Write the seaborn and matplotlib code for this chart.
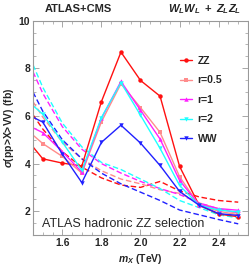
import numpy as np
import pandas as pd
import matplotlib
matplotlib.use("Agg")
import matplotlib.pyplot as plt
import seaborn as sns

# solid curves (markers), mass points in TeV
mx = [1.4, 1.5, 1.6, 1.7, 1.8, 1.9, 2.0, 2.1, 2.2, 2.3, 2.4, 2.5]
zz = [5.2, 4.2, 4.02, 3.9, 6.6, 8.68, 7.49, 6.83, 3.88, 2.25, 1.88, 1.77]
r05 = [5.55, 4.84, 4.3, 3.6, 5.75, 7.35, 6.35, 5.31, 3.45, 2.25, 2.0, 1.85]
r1 = [5.7, 5.3, 4.5, 3.64, 5.9, 7.45, 6.24, 5.03, 3.29, 2.28, 2.11, 2.04]
r2 = [6.8, 6.07, 4.9, 3.71, 5.93, 7.4, 6.03, 4.64, 3.08, 2.25, 2.05, 1.97]
ww = [6.15, 5.74, 4.4, 3.2, 4.89, 5.61, 4.86, 3.92, 2.83, 2.25, 1.9, 1.82]

# dashed curves
mx_d = [1.45, 1.5, 1.6, 1.7, 1.8, 1.9, 2.0, 2.1, 2.2, 2.3, 2.4, 2.5]
zz_d = [6.05, 5.45, 4.5, 3.85, 3.4, 3.1, 3.0, 3.25, 2.85, 2.6, 2.45, 2.38]
r05_d = [6.6, 5.95, 4.9, 4.2, 3.7, 3.35, 3.15, 2.9, 2.75, 2.35, 2.1, 1.9]
r1_d = [7.85, 6.95, 5.55, 4.6, 4.0, 3.6, 3.25, 2.95, 2.7, 2.35, 2.1, 1.92]
r2_d = [8.15, 7.2, 5.7, 4.7, 4.05, 3.75, 3.35, 2.95, 2.45, 2.15, 1.85, 1.72]
ww_d = [7.0, 6.2, 5.0, 4.2, 3.6, 3.15, 2.8, 2.45, 2.05, 1.85, 1.65, 1.47]

labels = ["ZZ", "r=0.5", "r=1", "r=2", "WW"]
colors = ["#ff1010", "#ff8c8c", "#ff20ff", "#20ffff", "#2020ff"]
markers = ["o", "s", "^", "v", "v"]

sns.set_style("ticks")
plt.rcParams["font.family"] = ["Liberation Sans", "DejaVu Sans"]
plt.rcParams["mathtext.fontset"] = "custom"
plt.rcParams["mathtext.it"] = "Liberation Sans:bold:italic"
plt.rcParams["mathtext.rm"] = "Liberation Sans:bold"
plt.rcParams["mathtext.bf"] = "Liberation Sans:bold"

fig = plt.figure(figsize=(2.49, 2.68), dpi=100)
ax = fig.add_axes([0.1325, 0.123, 0.8635, 0.80])

solid = [zz, r05, r1, r2, ww]
dashed = [zz_d, r05_d, r1_d, r2_d, ww_d]

for vals, c in zip(dashed, colors):
    sns.lineplot(x=mx_d, y=vals, ax=ax, color=c, linestyle=(0, (4, 2)),
                 linewidth=1.0, legend=False)

for vals, c, m, lab in zip(solid, colors, markers, labels):
    sns.lineplot(x=mx, y=vals, ax=ax, color=c, marker=m, markersize=3.2,
                 markeredgewidth=0, linewidth=1.0, label=lab)

ax.set_xlim(1.45, 2.55)
ax.set_ylim(1, 10)
ax.set_xticks([1.6, 1.8, 2.0, 2.2, 2.4])
ax.set_yticks([2, 4, 6, 8, 10])
ax.set_xticks(np.arange(1.45, 2.551, 0.05), minor=True)
ax.set_yticks(np.arange(1, 10.01, 0.5), minor=True)
ax.tick_params(which="both", direction="in", top=True, right=True,
               color="#999999", labelsize=7.5, pad=2)
ax.tick_params(which="major", length=4, width=0.6)
ax.tick_params(which="minor", length=2, width=0.5)
for t in ax.get_xticklabels() + ax.get_yticklabels():
    t.set_fontweight("bold")
for s in ax.spines.values():
    s.set_color("#999999")
    s.set_linewidth(0.8)

ax.set_xlabel("$m_X$ (TeV)", fontsize=7.5, fontweight="bold", labelpad=3)
ax.set_ylabel(r"$\sigma$(pp>X>VV) (fb)", fontsize=7.5, fontweight="bold",
              labelpad=2)

fig.text(0.315, 0.965, "ATLAS+CMS", fontsize=8, fontweight="bold",
         ha="center", va="center")
fig.text(0.97, 0.965, r"$W_LW_L\ +\ Z_LZ_L$", fontsize=8,
         ha="right", va="center")
ax.text(0.04, 0.025, "ATLAS hadronic ZZ selection", transform=ax.transAxes,
        fontsize=9, ha="left", va="bottom")

ax.legend(loc="upper left", bbox_to_anchor=(0.64, 0.88), frameon=False,
          handlelength=1.2, handletextpad=0.5,
          labelspacing=0.92, prop={"weight": "bold", "size": 7.5})

fig.savefig("out.png", dpi=100)
